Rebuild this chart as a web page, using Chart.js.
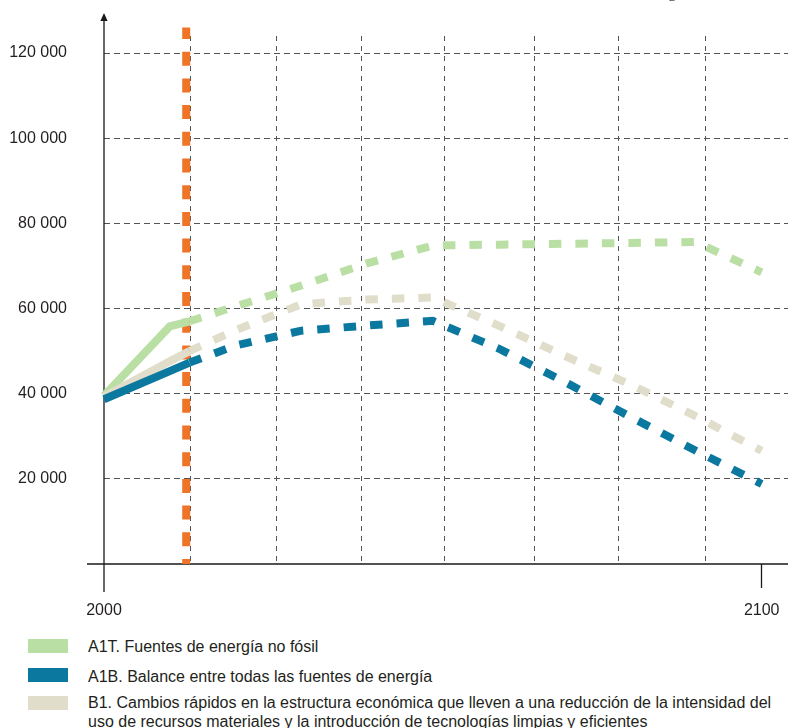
<!DOCTYPE html>
<html>
<head>
<meta charset="utf-8">
<script src="https://cdn.jsdelivr.net/npm/chart.js@4.4.1/dist/chart.umd.min.js"></script>
<style>
  body { margin: 0; background: #fff; }
  #wrap { position: relative; width: 788px; height: 728px; overflow: hidden; font-family: "Liberation Sans", Arial, sans-serif; color: #231f20; }
  #chart { position: absolute; left: 0; top: 0; }
  .sw { position: absolute; left: 28px; width: 40px; height: 14px; }
  .lt { position: absolute; left: 88px; font-size: 16px; line-height: 19px; white-space: nowrap; }
  #sub { position: absolute; left: 669px; top: -9px; font-size: 11px; color: #555; }
</style>
</head>
<body>
<div id="wrap">
  <canvas id="chart" width="788" height="630"></canvas>
  <span id="sub">2</span>
  <div class="sw" style="top:639px;background:#badfa5"></div>
  <div class="lt" style="top:637px">A1T. Fuentes de energía no fósil</div>
  <div class="sw" style="top:668px;background:#0b78a0"></div>
  <div class="lt" style="top:667px">A1B. Balance entre todas las fuentes de energía</div>
  <div class="sw" style="top:696px;background:#e0ddcb"></div>
  <div class="lt" style="top:693px">B1. Cambios rápidos en la estructura económica que lleven a una reducción de la intensidad del<br>uso de recursos materiales y la introducción de tecnologías limpias y eficientes</div>
</div>
<script>
// data
const years = [2000, 2010, 2013, 2020, 2030, 2040, 2050, 2060, 2070, 2080, 2090, 2100];
const a1t = [39500, 55800, 57000, 60500, 65400, 70600, 74800, 75000, 75200, 75400, 75600, 68500];
const a1b = [38700, 45300, 47300, 51300, 54800, 56000, 57100, 50600, 42800, 34600, 26600, 18800];
const b1 = [39300, 47600, 50000, 54900, 61000, 62100, 62600, 56000, 48900, 42200, 34700, 26600];

const cutYear = 2013;        // solid before, dashed after
const markYear = 2012.5;     // orange vertical line
const yTicks = [0, 20000, 40000, 60000, 80000, 100000, 120000];
const xGridYears = [2013.1, 2026.3, 2039.1, 2051.7, 2065.5, 2078.3, 2091.5];
const xLabelYears = [2000, 2100];

function pts(vals) {
  return years.map((yr, i) => ({x: yr, y: vals[i]}));
}

function fmt(v) {
  return String(v).replace(/\B(?=(\d{3})+(?!\d))/g, ' ');
}

const dash = [12.5, 14];
const seg = { borderDash: ctx => ctx.p0.parsed.x >= cutYear ? dash : undefined };

function series(vals, color, order) {
  return {
    data: pts(vals),
    borderColor: color,
    borderWidth: 8,
    borderCapStyle: 'butt',
    pointRadius: 0,
    tension: 0,
    clip: false,
    order: order,
    segment: seg
  };
}

const axesPlugin = {
  id: 'axes',
  beforeDatasetsDraw(chart) {
    const {ctx, chartArea} = chart;
    const xs = chart.scales.x, ys = chart.scales.y;
    const x0 = xs.getPixelForValue(2000);
    const y0 = ys.getPixelForValue(0);
    ctx.save();
    ctx.strokeStyle = '#1a1a1a';
    ctx.lineWidth = 1.3;
    ctx.beginPath();
    ctx.moveTo(x0, y0 + 28);
    ctx.lineTo(x0, chartArea.top - 16);
    ctx.moveTo(x0 - 17, y0);
    ctx.lineTo(chart.width, y0);
    ctx.stroke();
    ctx.fillStyle = '#1a1a1a';
    ctx.beginPath();
    ctx.moveTo(x0, chartArea.top - 23);
    ctx.lineTo(x0 - 3.6, chartArea.top - 15);
    ctx.lineTo(x0 + 3.6, chartArea.top - 15);
    ctx.closePath();
    ctx.fill();
    ctx.restore();
  }
};

Chart.defaults.font.family = '"Liberation Sans", Arial, sans-serif';
Chart.defaults.font.size = 16;
Chart.defaults.color = '#231f20';

new Chart(document.getElementById('chart'), {
  type: 'line',
  data: {
    datasets: [
      series(a1t, '#badfa5', 3),
      series(a1b, '#0b78a0', 1),
      series(b1, '#e0ddcb', 2),
      {
        data: [{x: markYear, y: 0}, {x: markYear, y: 126000}],
        borderColor: '#f07428',
        borderWidth: 8,
        borderCapStyle: 'butt',
        borderDash: [14, 12.7],
        borderDashOffset: 9,
        pointRadius: 0,
        clip: false,
        order: 10
      }
    ]
  },
  options: {
    responsive: false,
    animation: false,
    layout: { padding: { top: 36, right: 0, left: 0, bottom: 0 } },
    plugins: { legend: { display: false }, tooltip: { enabled: false } },
    scales: {
      x: {
        type: 'linear',
        min: 2000,
        max: 2104,
        afterFit: s => { s.height = 66; s.paddingLeft = 0; s.paddingRight = 0; },
        afterBuildTicks: s => {
          s.ticks = [2000, ...xGridYears, 2100].map(v => ({value: v}));
        },
        ticks: {
          autoSkip: false,
          maxRotation: 0,
          padding: 13,
          callback: v => xLabelYears.includes(v) ? String(v) : ''
        },
        grid: {
          color: c => (c.tick && xLabelYears.includes(c.tick.value)) ? 'rgba(0,0,0,0)' : '#555',
          lineWidth: 1,
          tickLength: 24,
          tickWidth: 1.3,
          tickColor: c => (c.tick && c.tick.value === 2100) ? '#1a1a1a' : 'rgba(0,0,0,0)',
          tickBorderDash: []
        },
        border: { display: false, dash: [5, 5] }
      },
      y: {
        min: 0,
        max: 124000,
        afterFit: s => { s.width = 104; s.paddingTop = 0; s.paddingBottom = 0; },
        afterBuildTicks: s => {
          s.ticks = yTicks.map(v => ({value: v}));
        },
        ticks: {
          padding: 37,
          callback: v => v === 0 ? '' : fmt(v)
        },
        grid: {
          color: c => (c.tick && c.tick.value === 0) ? 'rgba(0,0,0,0)' : '#555',
          lineWidth: 1,
          drawTicks: false
        },
        border: { display: false, dash: [6, 4] }
      }
    }
  },
  plugins: [axesPlugin]
});
</script>
</body>
</html>
